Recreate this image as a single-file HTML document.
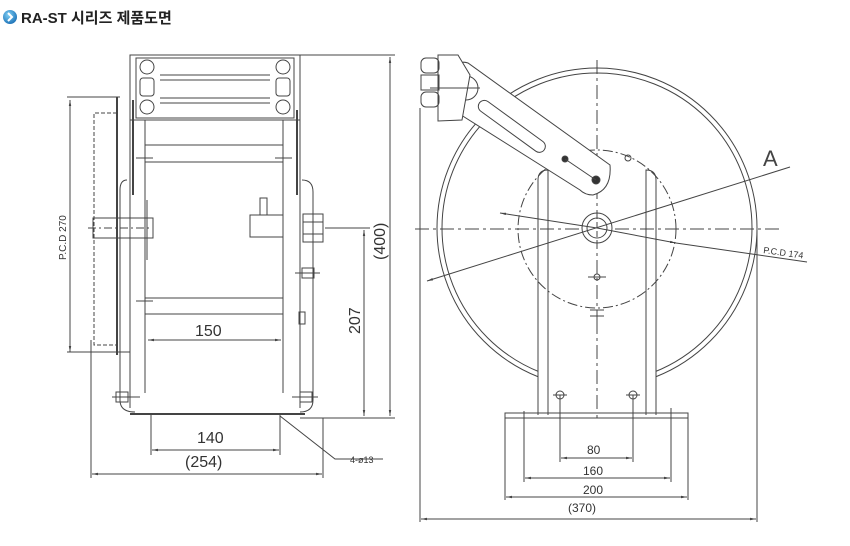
<!DOCTYPE html>
<html><head><meta charset="utf-8"><style>
body{margin:0;background:#fff;width:850px;height:546px;overflow:hidden}
svg{display:block}
text{font-family:"Liberation Sans","Noto Sans CJK KR",sans-serif;fill:#333}
</style></head><body>
<svg width="850" height="546" viewBox="0 0 850 546" xmlns="http://www.w3.org/2000/svg">
<defs>
<radialGradient id="g" cx="40%" cy="35%" r="70%"><stop offset="0" stop-color="#7fd0f5"/><stop offset="1" stop-color="#1a6fb5"/></radialGradient>
<marker id="a" viewBox="0 0 10 10" refX="10" refY="5" markerWidth="6" markerHeight="6" orient="auto-start-reverse"><path d="M0,3 L10,5 L0,7z" fill="#444"/></marker>
</defs>
<circle cx="10" cy="17" r="7" fill="url(#g)"/>
<path d="M8,13 L12,17 L8,21" stroke="#fff" stroke-width="2" fill="none"/>
<text x="21" y="23" font-size="15" font-weight="bold" style="fill:#222">RA-ST 시리즈 제품도면</text>

<g stroke="#444" stroke-width="1" fill="none">
<!-- LEFT VIEW -->
<rect x="130" y="55" width="170" height="65"/>
<rect x="136" y="58" width="158" height="60"/>
<line x1="160" y1="75" x2="270" y2="75"/><line x1="160" y1="80" x2="270" y2="80"/>
<line x1="160" y1="98" x2="270" y2="98"/><line x1="160" y1="103" x2="270" y2="103"/>
<circle cx="147" cy="67" r="7"/><circle cx="147" cy="107" r="7"/>
<circle cx="283" cy="67" r="7"/><circle cx="283" cy="107" r="7"/>
<rect x="140" y="78" width="14" height="18" rx="3"/><rect x="276" y="78" width="14" height="18" rx="3"/>
<line x1="145" y1="120" x2="145" y2="393"/><line x1="283" y1="120" x2="283" y2="393"/>
<line x1="145" y1="145" x2="283" y2="145"/><line x1="145" y1="162" x2="283" y2="162"/>
<line x1="145" y1="298" x2="283" y2="298"/><line x1="145" y1="314" x2="283" y2="314"/>
<line x1="136" y1="158" x2="153" y2="158"/><line x1="275" y1="158" x2="292" y2="158"/>
<line x1="136" y1="301" x2="153" y2="301"/>
<line x1="130" y1="120" x2="130" y2="408"/><line x1="133" y1="100" x2="133" y2="195" stroke-width="2"/>
<line x1="300" y1="120" x2="300" y2="408"/><line x1="297" y1="110" x2="297" y2="195" stroke-width="2"/>
<path d="M127,180 Q120,180 120,190 L120,400 Q120,412 135,412"/>
<path d="M302,180 Q313,180 313,192 L313,400 Q313,412 300,412"/>
<line x1="117" y1="97" x2="117" y2="355" stroke-width="2"/>
<path d="M117,113 L94,113 L94,345 L117,345" stroke-dasharray="4,2"/>
<rect x="93" y="218" width="37" height="20"/>
<line x1="88" y1="228" x2="150" y2="228" stroke-dasharray="8,3,2,3"/>
<rect x="130" y="218" width="23" height="20"/><line x1="147" y1="200" x2="147" y2="260"/>
<rect x="250" y="215" width="33" height="22"/><rect x="260" y="198" width="7" height="17"/>
<rect x="303" y="214" width="20" height="28"/><line x1="303" y1="222" x2="323" y2="222"/><line x1="303" y1="234" x2="323" y2="234"/>
<rect x="302" y="268" width="12" height="10"/><line x1="295" y1="273" x2="320" y2="273"/>
<rect x="299" y="312" width="6" height="12"/>
<rect x="116" y="392" width="12" height="10"/><rect x="300" y="392" width="12" height="10"/>
<line x1="112" y1="397" x2="140" y2="397"/><line x1="292" y1="397" x2="318" y2="397"/>
<line x1="130" y1="414" x2="305" y2="414" stroke-width="2"/>
<!-- left dims -->
<line x1="67" y1="97" x2="120" y2="97"/><line x1="70" y1="100" x2="70" y2="352" marker-start="url(#a)" marker-end="url(#a)"/><line x1="67" y1="352" x2="130" y2="352"/>
<line x1="148" y1="340" x2="281" y2="340" marker-start="url(#a)" marker-end="url(#a)"/>
<line x1="300" y1="55" x2="395" y2="55"/><line x1="390" y1="57" x2="390" y2="416" marker-start="url(#a)" marker-end="url(#a)"/>
<line x1="325" y1="228" x2="370" y2="228"/><line x1="364" y1="230" x2="364" y2="416" marker-start="url(#a)" marker-end="url(#a)"/>
<line x1="300" y1="418" x2="395" y2="418"/>
<line x1="151" y1="414" x2="151" y2="455"/><line x1="280" y1="414" x2="280" y2="455"/>
<line x1="152" y1="450" x2="279" y2="450" marker-start="url(#a)" marker-end="url(#a)"/>
<line x1="91" y1="340" x2="91" y2="478"/><line x1="323" y1="418" x2="323" y2="478"/>
<line x1="92" y1="474" x2="322" y2="474" marker-start="url(#a)" marker-end="url(#a)"/>
<path d="M280,416 L335,459 L383,459"/>

<!-- RIGHT VIEW -->
<circle cx="597" cy="228" r="160"/><circle cx="597" cy="228" r="155"/>
<circle cx="597" cy="229" r="79" stroke-dasharray="10,3,2,3"/>
<line x1="415" y1="229" x2="780" y2="229" stroke-dasharray="14,4,3,4"/>
<line x1="597" y1="60" x2="597" y2="418" stroke-dasharray="14,4,3,4"/>
<rect x="538" y="320" width="118" height="95" fill="#fff" stroke="none"/>
<line x1="597" y1="320" x2="597" y2="413" stroke-dasharray="14,4,3,4"/>
<path d="M538,415 L538,180 Q538,170 548,170 L548,415"/>
<path d="M656,415 L656,180 Q656,170 646,170 L646,415"/>
<circle cx="597" cy="228" r="15" fill="#fff"/><circle cx="597" cy="228" r="10"/>
<line x1="597" y1="213" x2="597" y2="243" stroke-dasharray="6,3"/>
<path d="M460,75 L455,68 Q460,60 468,63 L610,165 Q612,190 593,195 Q585,195 580,190 L450,108" fill="#fff"/>
<rect x="483" y="98" width="80" height="12" rx="6" transform="rotate(36 483 98)"/>
<circle cx="466" cy="88" r="12"/>
<path d="M438,55 L458,55 L470,75 L462,120 L438,121z" fill="#fff"/>
<rect x="421" y="58" width="18" height="15" rx="5"/><rect x="421" y="75" width="18" height="15"/><rect x="421" y="92" width="18" height="15" rx="5"/>
<line x1="430" y1="88" x2="480" y2="88"/>
<circle cx="596" cy="180" r="4" fill="#333"/><circle cx="565" cy="159" r="3" fill="#333"/><circle cx="628" cy="158" r="3"/>
<line x1="565" y1="159" x2="596" y2="180"/>
<circle cx="597" cy="277" r="3"/><line x1="588" y1="277" x2="606" y2="277"/>
<line x1="590" y1="310" x2="604" y2="310"/><line x1="590" y1="316" x2="604" y2="316"/>
<line x1="427" y1="281" x2="790" y2="167" marker-start="url(#a)"/>
<line x1="500" y1="213" x2="597" y2="228" marker-start="url(#a)"/>
<line x1="597" y1="228" x2="676" y2="243" marker-end="url(#a)"/>
<line x1="676" y1="243" x2="807" y2="262"/>
<rect x="505" y="413" width="183" height="5"/>
<line x1="505" y1="418" x2="505" y2="500"/><line x1="688" y1="418" x2="688" y2="500"/>
<line x1="524" y1="411" x2="524" y2="482"/><line x1="671" y1="408" x2="671" y2="482"/>
<circle cx="560" cy="395" r="4"/><circle cx="633" cy="395" r="4"/>
<line x1="553" y1="395" x2="567" y2="395"/><line x1="626" y1="395" x2="640" y2="395"/>
<line x1="560" y1="395" x2="560" y2="462"/><line x1="633" y1="395" x2="633" y2="462"/>
<line x1="561" y1="458" x2="632" y2="458" marker-start="url(#a)" marker-end="url(#a)"/>
<line x1="525" y1="478" x2="670" y2="478" marker-start="url(#a)" marker-end="url(#a)"/>
<line x1="506" y1="497" x2="687" y2="497" marker-start="url(#a)" marker-end="url(#a)"/>
<line x1="420" y1="108" x2="420" y2="522"/><line x1="757" y1="228" x2="757" y2="522"/>
<line x1="421" y1="519" x2="756" y2="519" marker-start="url(#a)" marker-end="url(#a)"/>
</g>

<g font-size="16">
<text x="195" y="336">150</text>
<text x="197" y="443">140</text>
<text x="185" y="467">(254)</text>
<text transform="translate(360,334) rotate(-90)">207</text>
<text transform="translate(385,260) rotate(-90)">(400)</text>
</g>
<text transform="translate(66,260) rotate(-90)" font-size="10">P.C.D 270</text>
<text x="350" y="463" font-size="9">4-ø13</text>
<g font-size="12">
<text x="587" y="454">80</text>
<text x="583" y="475">160</text>
<text x="583" y="494">200</text>
<text x="568" y="512">(370)</text>
</g>
<text x="763" y="166" font-size="22" style="fill:#444;font-weight:300">A</text>
<text transform="translate(763,253) rotate(8)" font-size="9">P.C.D 174</text>
</svg>
</body></html>
